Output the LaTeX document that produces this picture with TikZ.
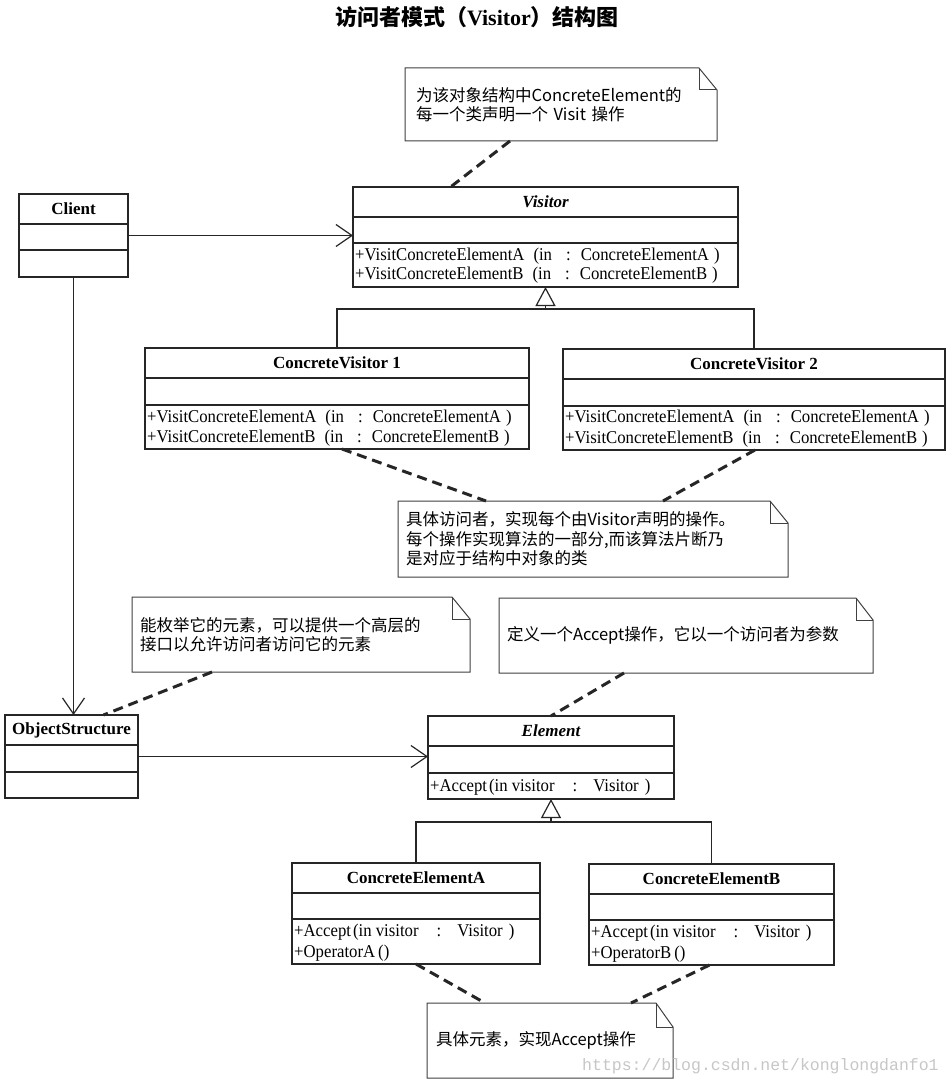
\documentclass[tikz,border=0pt]{standalone}
\usepackage{fontspec}
\setmainfont{Liberation Serif}
\newfontfamily\cjk{Noto Sans CJK SC}
\newfontfamily\opf[FakeStretch=0.93]{Liberation Serif}
\newfontfamily\wmf{Liberation Mono}
\usetikzlibrary{arrows.meta,calc}

\newcommand\opV[1]{+VisitConcreteElement#1\hspace{9pt}(in\hspace{14pt}:\hspace{10pt}ConcreteElement#1\hspace{5pt})}
\newcommand\opAcc{+Accept\hspace{2pt}(in visitor\hspace{18pt}:\hspace{16pt}Visitor\hspace{6pt})}

\begin{document}
\begin{tikzpicture}[x=1pt,y=-1pt,
  cls/.style={draw=black!85, line width=1.3pt, rectangle, inner sep=0pt, outer sep=0pt, anchor=north west},
  clsline/.style={draw=black!85, line width=1.2pt},
  clsname/.style={inner sep=0pt, font=\fontsize{17}{20}\selectfont\bfseries},
  opst/.style={inner sep=0pt, anchor=base west, font=\opf\fontsize{18}{20}\selectfont},
  assoc/.style={draw=black!85, line width=1.2pt, -{Straight Barb[length=16pt, width=22pt, line width=1.2pt]}},
  genln/.style={draw=black!85, line width=1.2pt},
  gen/.style={draw=black!85, line width=1.2pt, -{Triangle[open, length=19pt, width=20pt, line width=1.2pt]}},
  dashln/.style={draw=black!85, line width=3pt, dash pattern=on 10pt off 6pt},
  notest/.style={rectangle, inner ysep=0pt, outer sep=0pt, anchor=north west, align=left,
    font=\cjk\fontsize{16.5}{19.5}\selectfont},
  noteline/.style={draw=black!75, line width=1pt, line join=miter}
]
\fill[white] (0,0) rectangle (952,1086);
\useasboundingbox (0,0) rectangle (952,1086);

\newcommand\umlclass[8]{%
  \node[cls, minimum width=#4pt, minimum height=#5pt] (#1) at (#2,#3) {};
  \draw[clsline] ([yshift=-#6pt]#1.north west) -- ([yshift=-#6pt]#1.north east);
  \draw[clsline] ([yshift=-#7pt]#1.north west) -- ([yshift=-#7pt]#1.north east);
  \node[clsname] (#1-name) at ([yshift=-15pt]#1.north) {#8};
}
\newcommand\noteoutline[3]{%
  \draw[noteline] (#1.south west) -- (#1.north west) -- ([xshift=-#2pt]#1.north east)
     -- ([yshift=-#3pt]#1.north east) -- (#1.south east) -- cycle;
  \draw[noteline] ([xshift=-#2pt]#1.north east) -- ([xshift=-#2pt,yshift=-#3pt]#1.north east)
     -- ([yshift=-#3pt]#1.north east);
}

% title
\node[inner sep=0pt] (title) at (477,17)
  {\cjk\bfseries\fontsize{22}{24}\selectfont 访问者模式（{\rmfamily\bfseries Visitor}）结构图};

% classes
\umlclass{client}{19}{194}{109}{83}{30}{56}{Client}
\umlclass{visitor}{353}{187}{385}{100}{30}{56}{\itshape Visitor}
\umlclass{cv1}{145}{348}{384}{101}{30}{57}{ConcreteVisitor 1}
\umlclass{cv2}{563}{349}{382}{101}{30}{57}{ConcreteVisitor 2}
\umlclass{objs}{5}{715}{133}{83}{30}{57}{ObjectStructure}
\umlclass{element}{428}{716}{246}{83}{30}{57}{\itshape Element}
\umlclass{cea}{292}{863}{248}{101}{30}{56}{ConcreteElementA}
\umlclass{ceb}{589}{864}{245}{101}{30}{56}{ConcreteElementB}

% operations (baselines)
\node[opst] (v-op1) at (355,260) {\opV{A}};
\node[opst] (v-op2) at (355,279) {\opV{B}};
\node[opst] (cv1-op1) at (147,422) {\opV{A}};
\node[opst] (cv1-op2) at (147,442) {\opV{B}};
\node[opst] (cv2-op1) at (565,422) {\opV{A}};
\node[opst] (cv2-op2) at (565,443) {\opV{B}};
\node[opst] (el-op1) at (430,791) {\opAcc};
\node[opst] (cea-op1) at (294,936) {\opAcc};
\node[opst] (cea-op2) at (294,957) {+OperatorA\hspace{3pt}()};
\node[opst] (ceb-op1) at (591,937) {\opAcc};
\node[opst] (ceb-op2) at (591,958) {+OperatorB\hspace{3pt}()};

% notes
\node[notest, inner xsep=11pt, text width=290pt, minimum height=73pt] (note1) at (405,68)
  {为该对象结构中ConcreteElement的\\每一个类声明一个 Visit 操作};
\node[notest, inner xsep=8pt, text width=374pt, minimum height=76pt] (note2) at (398,501)
  {具体访问者，实现每个由Visitor声明的操作。\\每个操作实现算法的一部分,而该算法片断乃\\是对应于结构中对象的类};
\node[notest, inner xsep=8pt, text width=322pt, minimum height=75pt] (note3) at (132,597)
  {能枚举它的元素，可以提供一个高层的\\接口以允许访问者访问它的元素};
\node[notest, inner xsep=8pt, text width=358pt, minimum height=75pt] (note4) at (499,598)
  {定义一个Accept操作，它以一个访问者为参数};
\node[notest, inner xsep=9pt, text width=228pt, minimum height=75pt] (note5) at (427,1003)
  {具体元素，实现Accept操作};
\noteoutline{note1}{18}{22}
\noteoutline{note2}{18}{22}
\noteoutline{note3}{18}{22}
\noteoutline{note4}{17}{22}
\noteoutline{note5}{17}{24}

% associations
\draw[assoc] (client.east) -- (client.east -| visitor.west);
\draw[assoc] (client.south) -- (client.south |- objs.north);
\draw[assoc] (objs.east) -- (objs.east -| element.west);

% generalizations
\coordinate (vbar) at ([yshift=-22pt]visitor.south);
\draw[genln] (cv1.north) |- (vbar) -| (cv2.north);
\draw[gen] (vbar) -- (visitor.south);
\coordinate (ebar) at ([yshift=-23pt]element.south);
\draw[genln] (cea.north) |- (ebar) -| (ceb.north);
\draw[gen] (ebar) -- (element.south);

% note anchors
\draw[dashln] ([xshift=-51pt]note1.south) -- ([xshift=-95pt]visitor.north);
\draw[dashln] ([xshift=5pt]cv1.south) -- ([xshift=-107pt]note2.north);
\draw[dashln] ([xshift=1pt]cv2.south) -- ([xshift=70pt]note2.north);
\draw[dashln] ([xshift=-89pt]note3.south) -- ([xshift=32pt]objs.north);
\draw[dashln] ([xshift=-62pt]note4.south) -- (element.north);
\draw[dashln] (cea.south) -- ([xshift=-65pt]note5.north);
\draw[dashln] ([xshift=-2pt]ceb.south) -- ([xshift=81pt]note5.north);

% watermark
\node[anchor=west, inner sep=0pt, text=black!22, font=\wmf\fontsize{16.5}{18}\selectfont] (wm) at (582,1066)
  {https://blog.csdn.net/konglongdanfo1};
\end{tikzpicture}
\end{document}
